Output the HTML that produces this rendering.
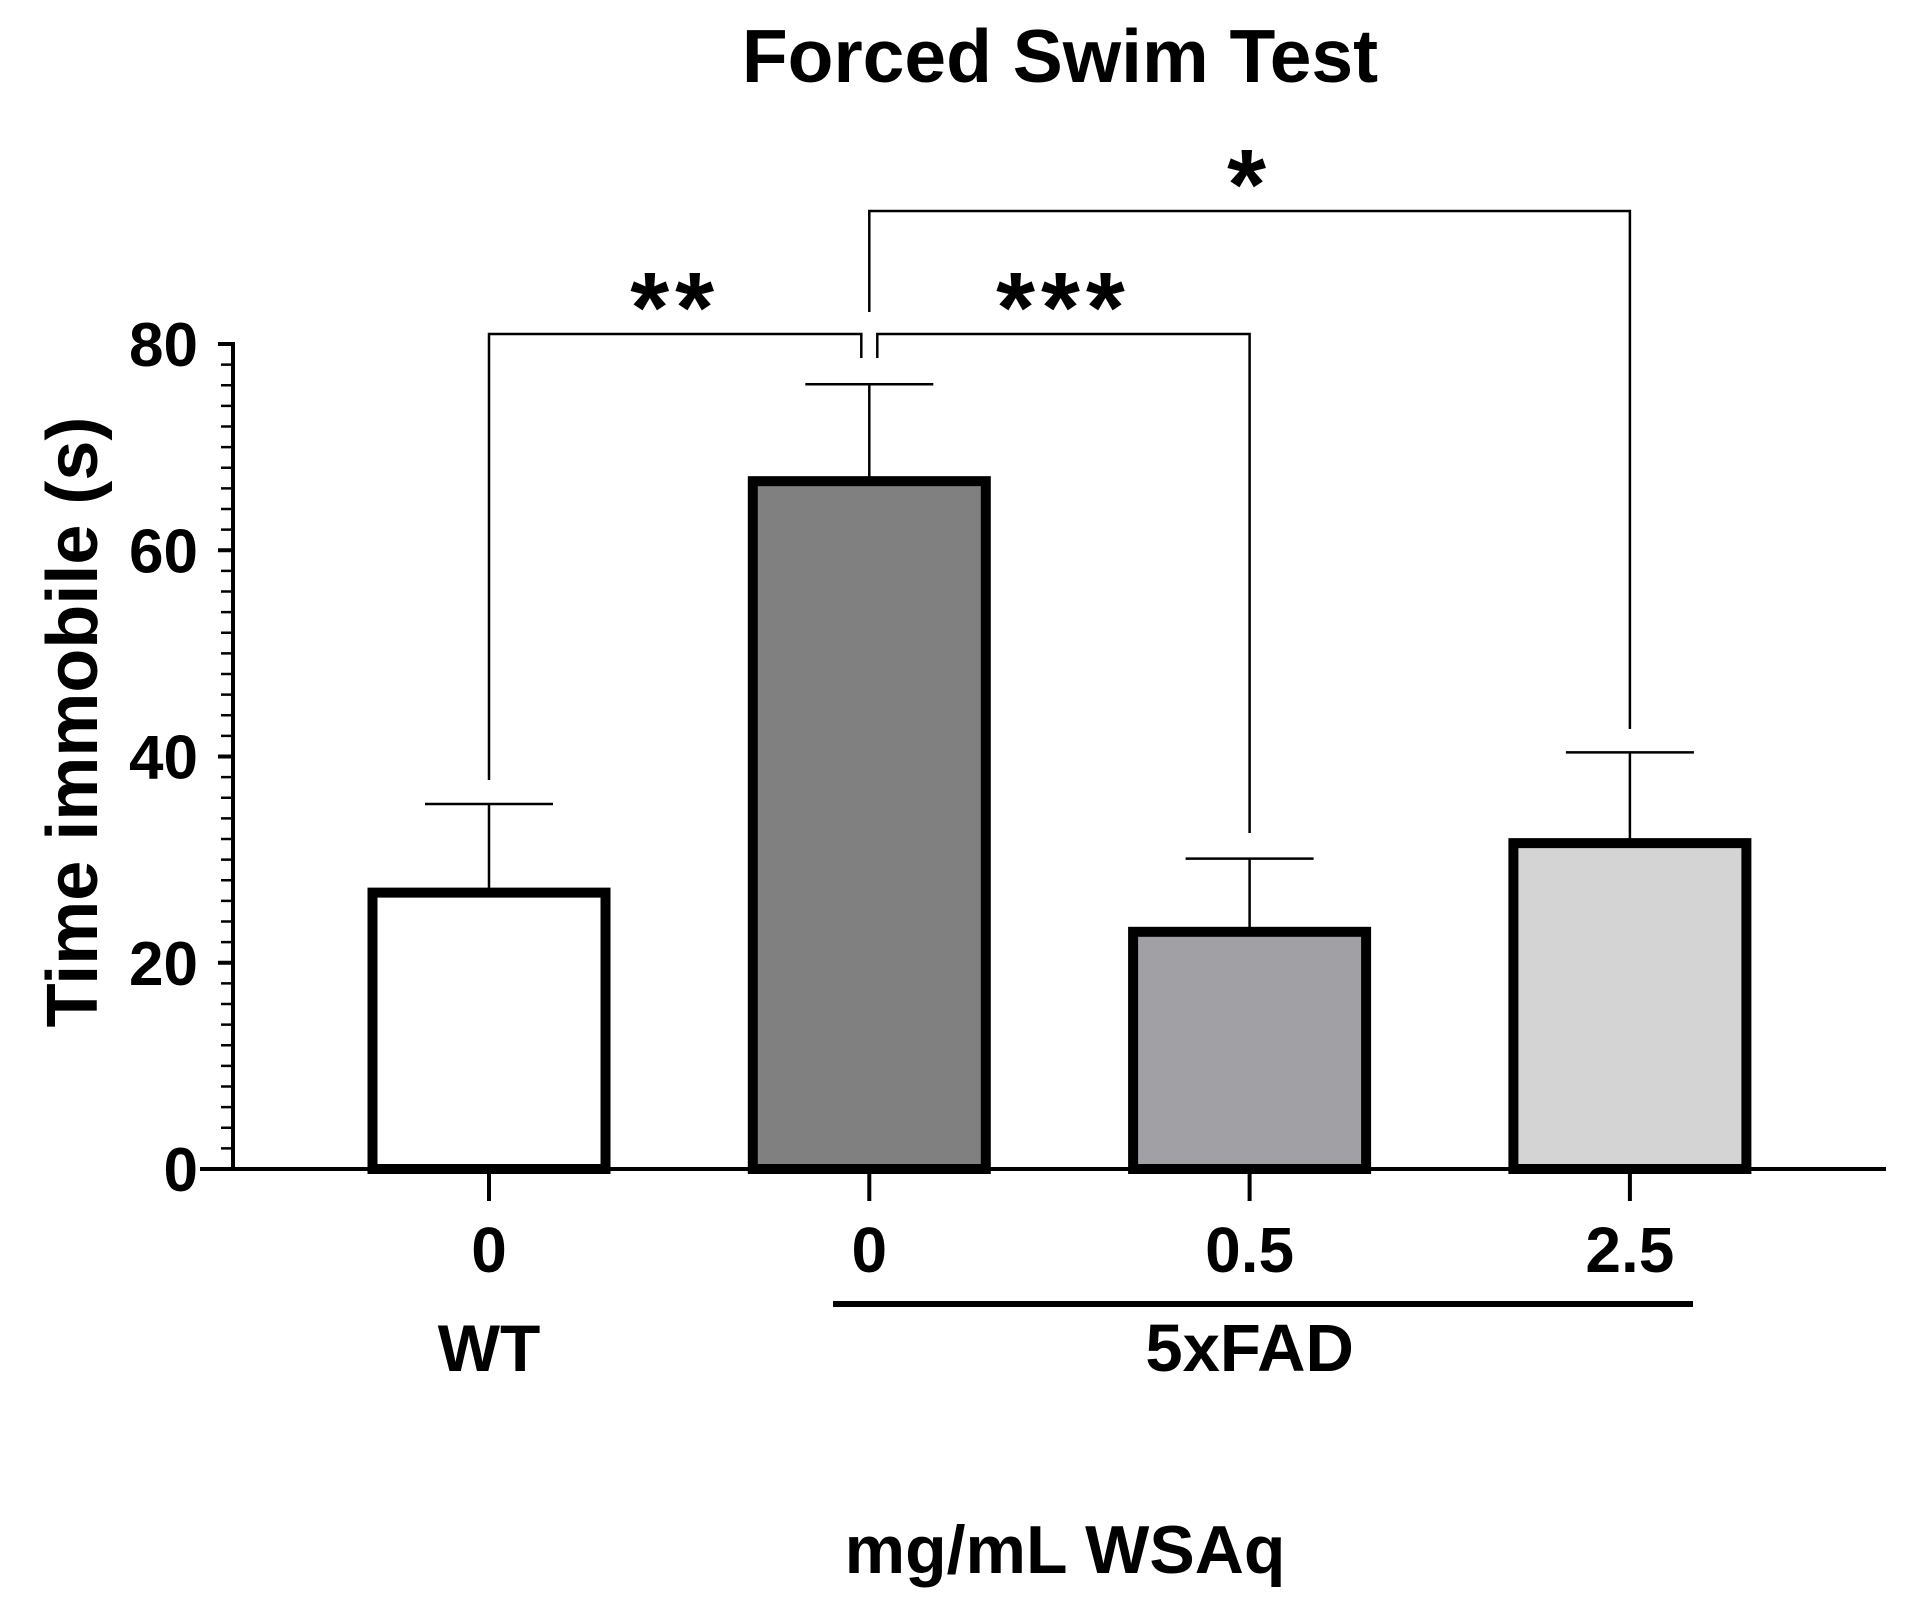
<!DOCTYPE html>
<html><head><meta charset="utf-8"><style>html,body{margin:0;padding:0;background:#fff}svg{display:block}text{font-family:"Liberation Sans",Arial,sans-serif;font-weight:bold;fill:#000}</style></head>
<body>
<svg id="chart" width="1910" height="1610" viewBox="0 0 1910 1610" xmlns="http://www.w3.org/2000/svg">
<text x="1060" y="82" font-size="75" text-anchor="middle">Forced Swim Test</text>
<text transform="translate(97,722) rotate(-90)" font-size="72" text-anchor="middle">Time immobile (s)</text>
<text x="1065" y="1573" font-size="68" text-anchor="middle">mg/mL WSAq</text>
<g id="plot"></g>
</svg>
<script>
const categories = ["0","0","0.5","2.5"];
const meanValues = [26.8,66.7,23.0,31.6];
const errorValues = [8.6,9.4,7.1,8.8];
const yTicks = [0,20,40,60,80];
const barColors = ["#ffffff","#808080","#a1a1a5","#d4d4d4"];
const NS="http://www.w3.org/2000/svg";
const g=document.getElementById('plot');
const y0=1169, yTop=344, yMax=80;
function yScale(v){return y0-(v/yMax)*(y0-yTop);}
function xScale(i){return 489+i*380.3;}
function mk(tag,attrs){const e=document.createElementNS(NS,tag);for(const k in attrs)e.setAttribute(k,attrs[k]);g.appendChild(e);return e;}
let ax=mk('line',{x1:233,y1:yScale(yMax)-2,x2:233,y2:y0+2,stroke:'#000','stroke-width':4});


let xa=mk('line',{x1:200,y1:y0,x2:1886,y2:y0,stroke:'#000','stroke-width':4});


for(let v=0;v<=yMax;v+=2){
  const major=v%20===0;
  const t=mk('line',{x1:major?218:221,y1:yScale(v),x2:233,y2:yScale(v),stroke:'#000','stroke-width':major?4:2.5});
  
  
}
yTicks.forEach(v=>{
  const t=mk('text',{x:198,y:yScale(v)+22,'font-size':62,'text-anchor':'end'});
  t.textContent=v;
  
  
});
const bw=243;
categories.forEach((c,i)=>{
  const cx=xScale(i);
  const err=mk('line',{x1:cx,y1:yScale(meanValues[i]),x2:cx,y2:yScale(meanValues[i]+errorValues[i]),stroke:'#000','stroke-width':2.5});
  
  
  const cap=mk('line',{x1:cx-64,y1:yScale(meanValues[i]+errorValues[i]),x2:cx+64,y2:yScale(meanValues[i]+errorValues[i]),stroke:'#000','stroke-width':2.5});
  
  
  const r=mk('rect',{x:cx-bw/2+5,y:yScale(meanValues[i]),width:bw-10,height:y0-yScale(meanValues[i]),fill:barColors[i],stroke:'#000','stroke-width':10});
  
  
  const tk=mk('line',{x1:cx,y1:y0,x2:cx,y2:y0+32,stroke:'#000','stroke-width':4});
  
  
  const lb=mk('text',{x:cx,y:1272,'font-size':64,'text-anchor':'middle'});
  lb.textContent=c;
  
  
});
let wt=mk('text',{x:xScale(0),y:1371,'font-size':66,'text-anchor':'middle'});wt.textContent='WT';


let gl=mk('line',{x1:833,y1:1304,x2:1693,y2:1304,stroke:'#000','stroke-width':6});


let fd=mk('text',{x:xScale(2),y:1371,'font-size':67,'text-anchor':'middle'});fd.textContent='5xFAD';


function bracket(x1,yl,x2,yr,yb,label,name){
  const p=mk('path',{d:`M${x1},${yl} V${yb} H${x2} V${yr}`,fill:'none',stroke:'#000','stroke-width':2.5});
  
  
  const t=mk('text',{x:(x1+x2)/2,y:yb+8,'font-size':100,'text-anchor':'middle','letter-spacing':6});
  t.textContent=label;
  
  
}
bracket(xScale(0),780,xScale(1)-8,358,334,'**','bracket-wt-vs-5xfad');
bracket(xScale(1)+8,358,xScale(2),833,334,'***','bracket-0-vs-0.5');
bracket(xScale(1),312,xScale(3),729,211,'*','bracket-0-vs-2.5');
</script>
</body></html>
